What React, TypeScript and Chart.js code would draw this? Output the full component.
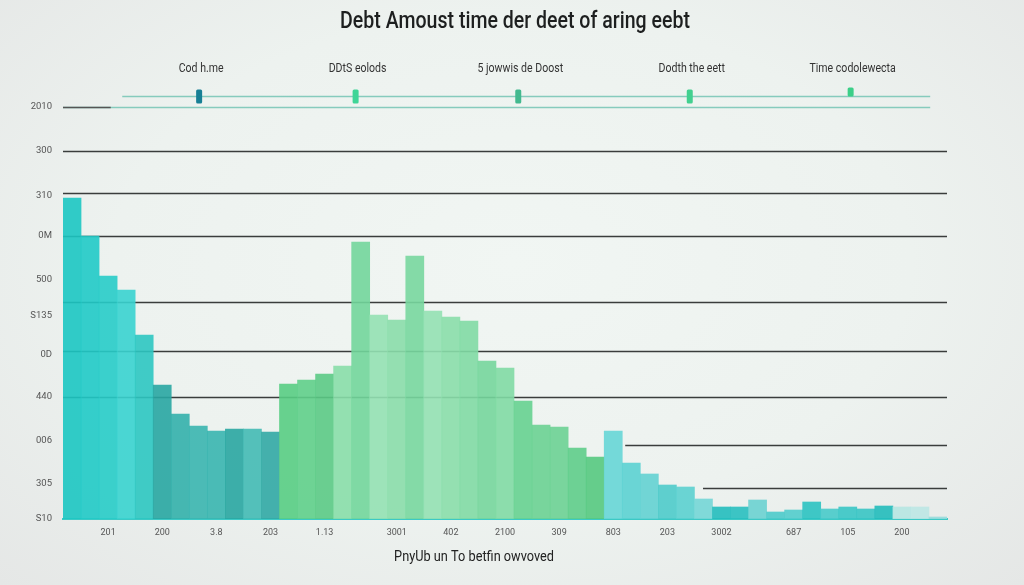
import React, { useEffect, useRef } from "react";
import { Chart, registerables } from "chart.js";

Chart.register(...registerables);

const chartTitle = "Debt Amoust time der deet of aring eebt";
const xAxisTitle = "PnyUb un To betfin owvoved";
const legendLabels = ["Cod h.me", "DDtS eolods", "5 jowwis de Doost", "Dodth the eett", "Time codolewecta"];
const legendColors = ["#177f95", "#3fd597", "#43b98f", "#42d08f", "#3ccf88"];
// legend item centres as fraction of plot width
const legendSlots = [0.154, 0.331, 0.515, 0.709, 0.891];

const xTickLabels = ["201", "200", "3.8", "203", "1.13", "3001", "402", "2100", "309", "803", "203", "3002", "687", "105", "200"];
// category index at which each x tick label sits
const xTickIndex = [2, 5, 8, 11, 14, 18, 21, 24, 27, 30, 33, 36, 40, 43, 46];
const yTickValues = [412, 368, 323, 283, 239, 203, 164, 122, 78, 35, 0];
const yTickLabels = ["2010", "300", "310", "0M", "500", "S135", "0D", "440", "006", "305", "S10"];

const debtValues = [
  321, 283, 243, 229, 184, 134, 105, 93, 88, 90, 90, 87,
  135, 139, 145, 153, 277, 204, 199, 263, 208, 202, 198, 158, 151, 118, 94, 92, 71, 62,
  88, 56, 45, 34, 32, 20, 12, 12, 19, 7, 9, 17, 10, 12, 10, 13, 12, 12, 2,
];

const barColors = [
  "#1cc6c2", "#20cac6", "#27ccc8", "#38d3cf", "#2cc6c1", "#28a6a2", "#33b0ab", "#3ab5af", "#38b5af", "#29a6a1", "#42bab4", "#31a9a4",
  "#58cd83", "#5fcf89", "#5bca85", "#88dea9", "#72d69b", "#93e1b2", "#8addaa", "#78d79f", "#93e1b2", "#8adeaa", "#81daa4", "#76d69c", "#81daa4", "#66d190", "#6ad292", "#6bd193", "#5ecd89", "#55c980",
  "#66d6d6", "#5bd1d1", "#63d2d2", "#4ecbca", "#5bd0cf", "#74d6d6", "#24bdbd", "#29bfbf", "#6cd1d0", "#4ccaca", "#52cccc", "#2bc2c1", "#48caca", "#38c5c5", "#38c4c4", "#22bbbb", "#b6e5e2", "#bce7e4", "#98dcdb",
];

// gridline values with horizontal extent as fraction of the plot width
const gridLines = [
  { v: 368, from: 0, to: 1 },
  { v: 326, from: 0, to: 1 },
  { v: 283, from: 0, to: 1 },
  { v: 217, from: 0, to: 1 },
  { v: 168, from: 0, to: 1 },
  { v: 122, from: 0, to: 1 },
  { v: 74, from: 0.636, to: 1 },
  { v: 31, from: 0.724, to: 1 },
];
const topLineValue = 412;
const legendLineValue = 423;

const categories = debtValues.map((_, i) => {
  const k = xTickIndex.indexOf(i);
  return k >= 0 ? xTickLabels[k] : "";
});

function drawText(ctx: CanvasRenderingContext2D, text: string, x: number, y: number, font: string, color: string, sx: number) {
  ctx.save();
  ctx.translate(x, y);
  ctx.scale(sx, 1);
  ctx.font = font;
  ctx.fillStyle = color;
  ctx.textAlign = "center";
  ctx.textBaseline = "middle";
  ctx.fillText(text, 0, 0);
  ctx.restore();
}

const decorPlugin = {
  id: "decor",
  beforeDatasetsDraw(chart: any) {
    const { ctx, chartArea, scales } = chart;
    const w = chartArea.right - chartArea.left;
    const y = scales.y;
    ctx.save();
    ctx.strokeStyle = "#3a3d3c";
    ctx.lineWidth = 1.4;
    for (const g of gridLines) {
      const py = Math.round(y.getPixelForValue(g.v)) + 0.5;
      ctx.beginPath();
      ctx.moveTo(chartArea.left + g.from * w, py);
      ctx.lineTo(chartArea.left + g.to * w, py);
      ctx.stroke();
    }
    const ty = Math.round(y.getPixelForValue(topLineValue)) + 0.5;
    ctx.strokeStyle = "#86cbbd";
    ctx.lineWidth = 1.6;
    ctx.beginPath();
    ctx.moveTo(chartArea.left, ty);
    ctx.lineTo(chartArea.left + 0.981 * w, ty);
    ctx.stroke();
    ctx.strokeStyle = "#555";
    ctx.lineWidth = 1.4;
    ctx.beginPath();
    ctx.moveTo(chartArea.left, ty);
    ctx.lineTo(chartArea.left + 0.054 * w, ty);
    ctx.stroke();
    ctx.restore();
  },
  afterDraw(chart: any) {
    const { ctx, chartArea, scales } = chart;
    const w = chartArea.right - chartArea.left;
    const y = scales.y;
    ctx.save();
    drawText(ctx, chartTitle, chart.width / 2 + 3, 22, "500 23px Roboto", "#1d1f1f", 0.85);
    const ly = Math.round(y.getPixelForValue(legendLineValue)) + 0.5;
    ctx.strokeStyle = "#86cbbd";
    ctx.lineWidth = 1.6;
    ctx.beginPath();
    ctx.moveTo(chartArea.left + 0.067 * w, ly);
    ctx.lineTo(chartArea.left + 0.981 * w, ly);
    ctx.stroke();
    legendLabels.forEach((label, i) => {
      const cx = chartArea.left + w * legendSlots[i];
      drawText(ctx, label, cx + 2, 69, "12px Roboto", "#333", 0.88);
      ctx.fillStyle = legendColors[i];
      const last = i === legendLabels.length - 1;
      ctx.beginPath();
      (ctx as any).roundRect(cx - 3, last ? ly - 9 : ly - 7, 6, last ? 9 : 14, 1.5);
      ctx.fill();
    });
    drawText(ctx, xAxisTitle, chartArea.left + 0.465 * w, 557, "15px Roboto", "#222", 0.85);
    ctx.restore();
  },
};

export default function App() {
  const ref = useRef<HTMLCanvasElement>(null);
  useEffect(() => {
    if (!ref.current) return;
    const chart = new Chart(ref.current, {
      type: "bar",
      data: {
        labels: categories,
        datasets: [
          {
            data: debtValues,
            backgroundColor: barColors.map((c) => c + "e6"),
            borderWidth: 0,
            categoryPercentage: 1,
            barPercentage: 1,
          },
        ],
      },
      options: {
        responsive: false,
        animation: false,
        devicePixelRatio: 1,
        layout: { padding: { top: 107, right: 77, left: 0, bottom: 0 } },
        plugins: { legend: { display: false }, title: { display: false }, tooltip: { enabled: false } },
        scales: {
          x: {
            grid: { display: false, drawTicks: false },
            border: { display: true, color: "#3cc9c5", width: 2 },
            ticks: {
              autoSkip: false,
              maxRotation: 0,
              padding: 8,
              color: "#555",
              font: { family: "Roboto", size: 9 },
            },
            afterFit: (s: any) => {
              s.height = 66;
            },
          },
          y: {
            min: 0,
            max: 412,
            grid: { display: false, drawTicks: false },
            border: { display: false },
            afterBuildTicks: (s: any) => {
              s.ticks = [...yTickValues].sort((a, b) => a - b).map((v) => ({ value: v }));
            },
            ticks: {
              padding: 11,
              color: "#555",
              font: { family: "Roboto", size: 9.5 },
              callback: (v: any) => {
                const i = yTickValues.indexOf(Number(v));
                return i >= 0 ? yTickLabels[i] : "";
              },
            },
            afterFit: (s: any) => {
              s.width = 63;
            },
          },
        },
      },
      plugins: [decorPlugin],
    } as any);
    return () => chart.destroy();
  }, []);
  return (
    <div
      style={{
        position: "absolute",
        left: 0,
        top: 0,
        width: 1024,
        height: 585,
        background: "radial-gradient(ellipse at 50% 45%, #f1f6f3 0%, #edf2ef 55%, #e5e7e6 100%)",
      }}
    >
      <canvas ref={ref} width={1024} height={585} style={{ display: "block" }} />
    </div>
  );
}
